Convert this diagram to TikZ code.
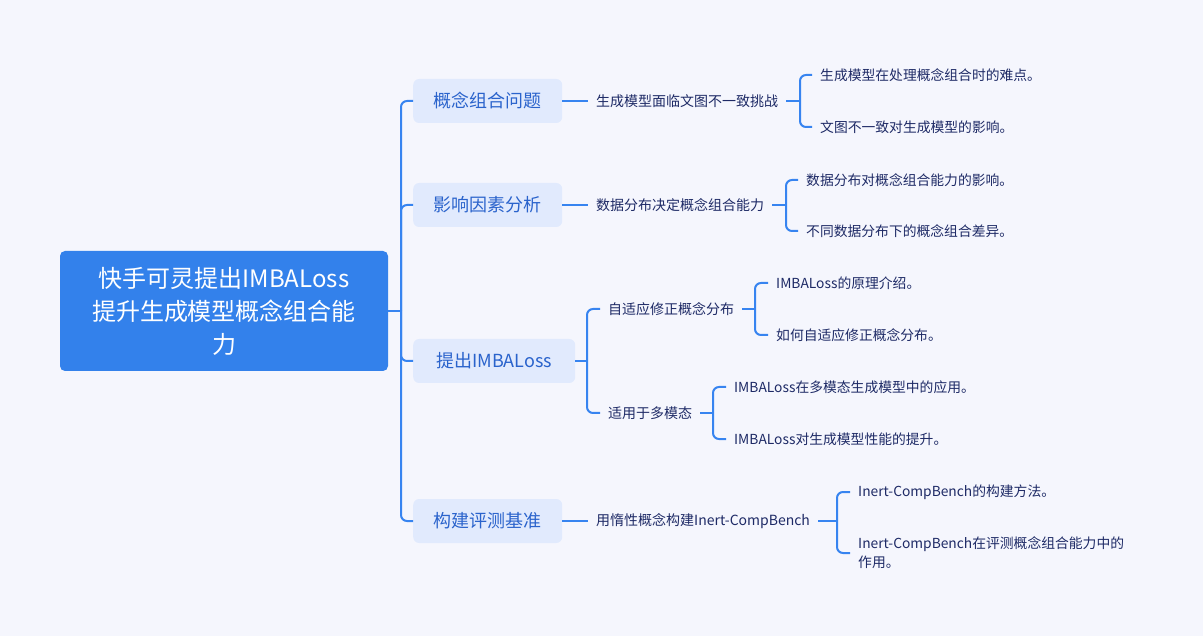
\documentclass[tikz,border=0pt]{standalone}
\usepackage{fontspec}
\setmainfont{Noto Sans CJK SC}
\usetikzlibrary{calc}
\definecolor{bgc}{HTML}{F5F6FD}
\definecolor{rootc}{HTML}{3381EB}
\definecolor{brc}{HTML}{E1EAFD}
\definecolor{brt}{HTML}{2A63CC}
\definecolor{lc}{HTML}{3784F0}
\definecolor{txt}{HTML}{1E2A66}
\begin{document}
\begin{tikzpicture}[x=1pt,y=-1pt,
  conn/.style={draw=lc,line width=2pt,rounded corners=6pt},
  rootbox/.style={fill=rootc,rounded corners=5pt,text=white,font=\fontsize{24}{33}\selectfont,align=center,minimum width=328pt,minimum height=120pt,inner sep=0pt},
  branch/.style={fill=brc,rounded corners=6pt,text=brt,font=\fontsize{18}{22}\selectfont,minimum height=44pt,inner sep=0pt,anchor=west},
  sub/.style={text=txt,font=\fontsize{14}{17}\selectfont,inner sep=0pt,anchor=west},
  leaf/.style={text=txt,font=\fontsize{13.8}{19}\selectfont,inner sep=0pt,anchor=west,align=left}]
\path[fill=bgc] (0,0) rectangle (1203,636);
\node[rootbox] (root) at (224,311) {快手可灵提出IMBALoss\\提升生成模型概念组合能\\力};
\node[branch,minimum width=149pt] (b1) at (413,101) {概念组合问题};
\node[branch,minimum width=149pt] (b2) at (413,205) {影响因素分析};
\node[branch,minimum width=162pt] (b3) at (413,361) {提出IMBALoss};
\node[branch,minimum width=149pt] (b4) at (413,521) {构建评测基准};
\node[sub] (s1) at (596,101) {生成模型面临文图不一致挑战};
\node[sub] (s2) at (596,205) {数据分布决定概念组合能力};
\node[sub] (s3a) at (608,309) {自适应修正概念分布};
\node[sub] (s3b) at (608,413) {适用于多模态};
\node[sub] (s4) at (596,521) {用惰性概念构建Inert-CompBench};
\node[leaf] (l11) at (820,75) {生成模型在处理概念组合时的难点。};
\node[leaf] (l12) at (820,127) {文图不一致对生成模型的影响。};
\node[leaf] (l21) at (806,180) {数据分布对概念组合能力的影响。};
\node[leaf] (l22) at (806,231) {不同数据分布下的概念组合差异。};
\node[leaf] (l31) at (776,283) {IMBALoss的原理介绍。};
\node[leaf] (l32) at (776,335) {如何自适应修正概念分布。};
\node[leaf] (l33) at (734,387) {IMBALoss在多模态生成模型中的应用。};
\node[leaf] (l34) at (734,439) {IMBALoss对生成模型性能的提升。};
\node[leaf] (l41) at (858,492) {Inert-CompBench的构建方法。};
\node[leaf] (l42) at (858,553) {Inert-CompBench在评测概念组合能力中的\\作用。};
\coordinate (hub) at (401,311);
\draw[conn] (root.east) -- (hub);
\foreach \b in {b1,b2,b3,b4} \draw[conn] (hub) |- (\b.west);
\draw[conn] (b1.east) -- ($(s1.west)+(-8,0)$);
\draw[conn] (b2.east) -- ($(s2.west)+(-8,0)$);
\draw[conn] (b4.east) -- ($(s4.west)+(-8,0)$);
\coordinate (h3) at (587,361);
\draw[conn] (b3.east) -- (h3);
\draw[conn] ($(s3a.west)+(-8,0)$) -| (h3) |- ($(s3b.west)+(-8,0)$);
\coordinate (k1) at (800,101);
\coordinate (k2) at (786,205);
\coordinate (k3) at (755,309);
\coordinate (k4) at (713,413);
\coordinate (k5) at (837,521);
\draw[conn] ($(s1.east)+(8,0)$) -- (k1);
\draw[conn] ($(l11.west)+(-8,0)$) -| (k1) |- ($(l12.west)+(-8,0)$);
\draw[conn] ($(s2.east)+(8,0)$) -- (k2);
\draw[conn] ($(l21.west)+(-8,0)$) -| (k2) |- ($(l22.west)+(-8,0)$);
\draw[conn] ($(s3a.east)+(8,0)$) -- (k3);
\draw[conn] ($(l31.west)+(-8,0)$) -| (k3) |- ($(l32.west)+(-8,0)$);
\draw[conn] ($(s3b.east)+(8,0)$) -- (k4);
\draw[conn] ($(l33.west)+(-8,0)$) -| (k4) |- ($(l34.west)+(-8,0)$);
\draw[conn] ($(s4.east)+(8,0)$) -- (k5);
\draw[conn] ($(l41.west)+(-8,0)$) -| (k5) |- ($(l42.west)+(-8,0)$);
\end{tikzpicture}
\end{document}
